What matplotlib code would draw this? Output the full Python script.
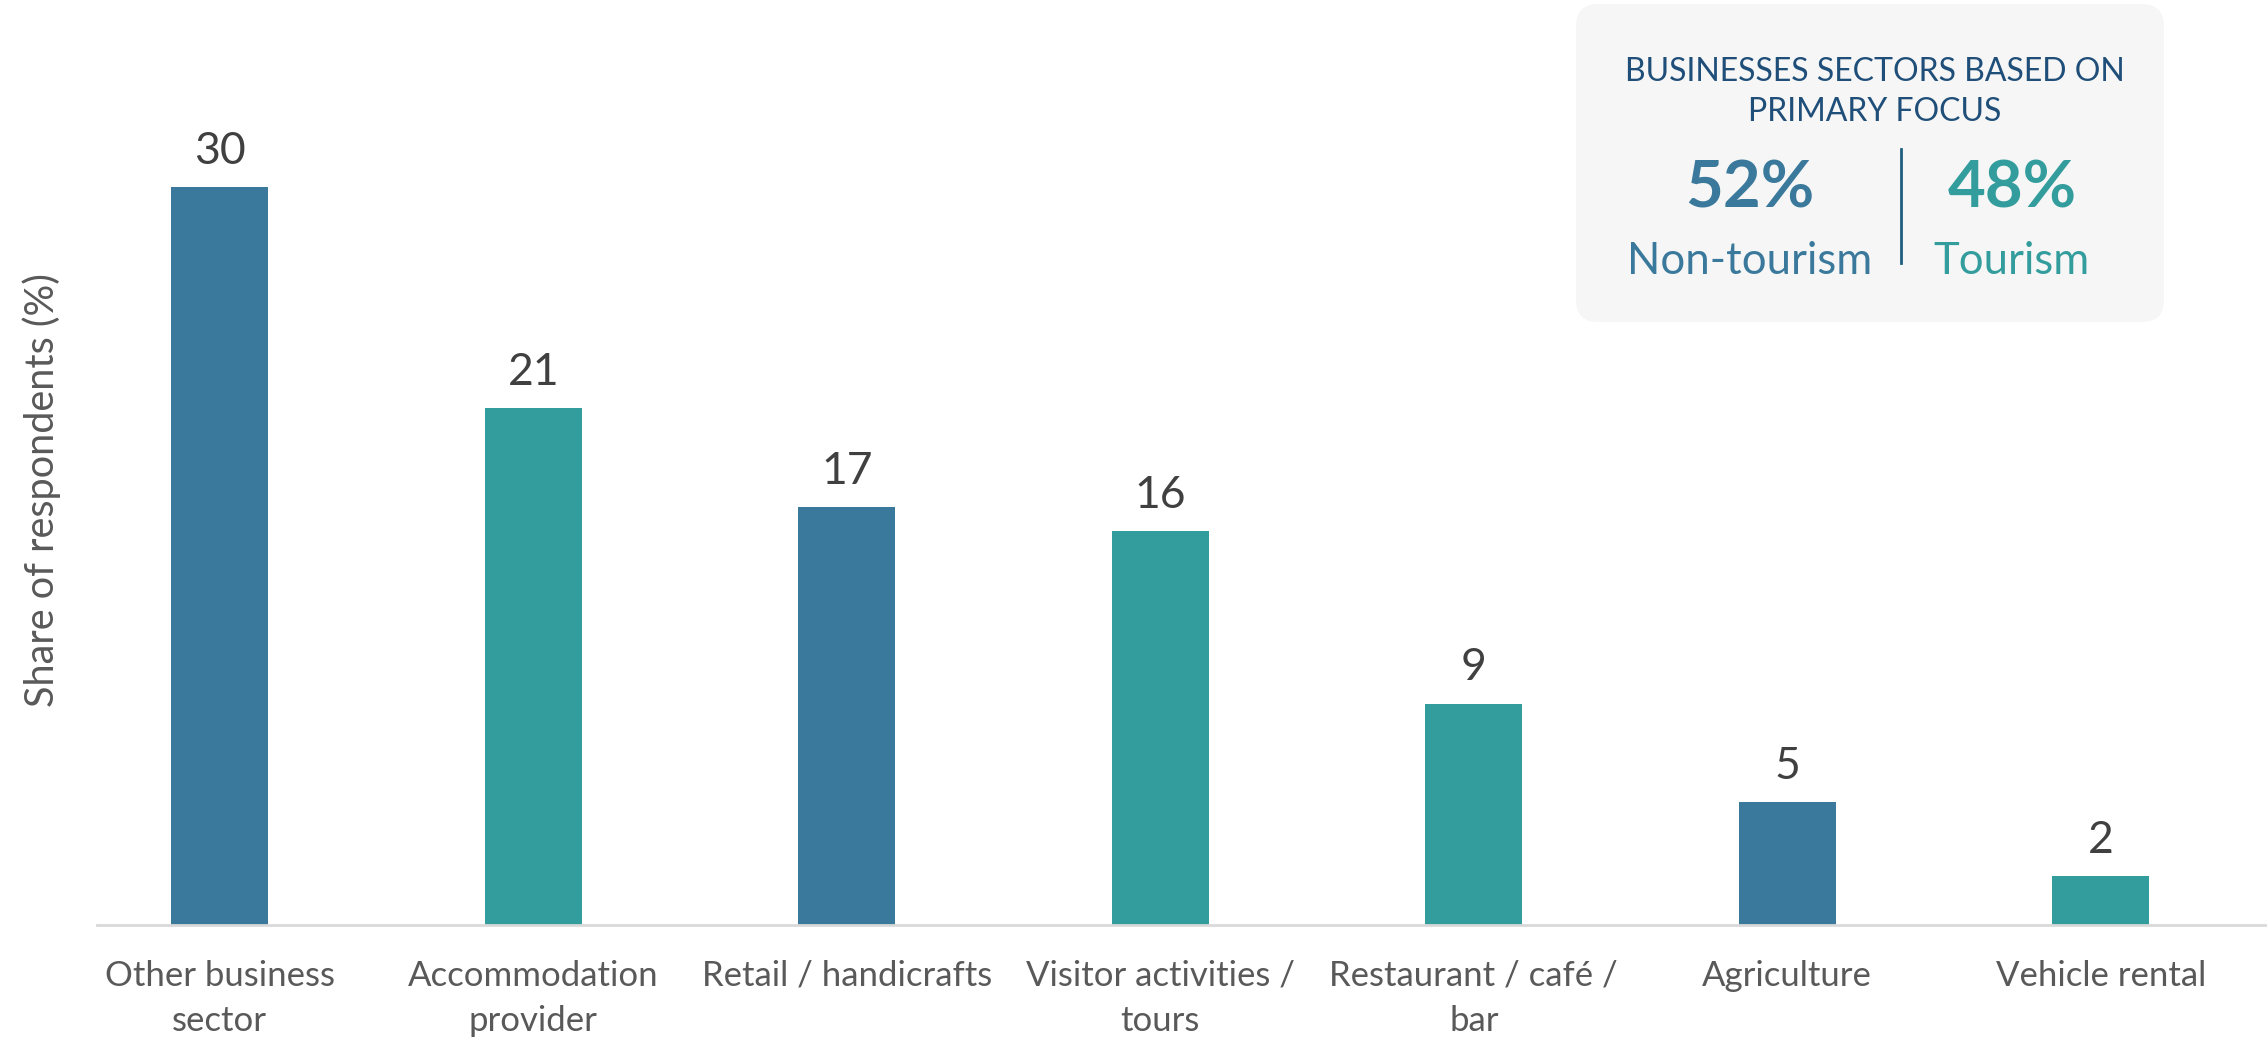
import matplotlib.pyplot as plt
from matplotlib.patches import FancyBboxPatch

plt.rcParams['font.family'] = ['Lato', 'DejaVu Sans']

categories = ['Other business\nsector', 'Accommodation\nprovider', 'Retail / handicrafts',
              'Visitor activities /\ntours', 'Restaurant / café /\nbar', 'Agriculture',
              'Vehicle rental']
values = [30, 21, 17, 16, 9, 5, 2]
is_tourism = [False, True, False, True, True, False, True]

non_tourism_share = 52
tourism_share = 48

blue = '#3a799b'
teal = '#339c9c'
colors = [teal if t else blue for t in is_tourism]

fig = plt.figure(figsize=(22.67, 10.37), dpi=100)
ax = fig.add_axes([0.043, 0.108, 0.957, 0.892])

x = range(len(categories))
bars = ax.bar(x, values, width=0.31, color=colors, zorder=2)
ax.bar_label(bars, labels=[str(v) for v in values], padding=11,
             fontsize=32, color='#404040')

ax.set_xlim(-0.39, 6.53)
ax.set_ylim(0, 37.6)
ax.set_xticks(list(x))
ax.set_xticklabels(categories, fontsize=25, color='#595959', linespacing=1.5)
ax.tick_params(axis='x', length=0, pad=25)
ax.set_yticks([])
for side in ['top', 'right', 'left']:
    ax.spines[side].set_visible(False)
ax.spines['bottom'].set_color('#d9d9d9')
ax.spines['bottom'].set_linewidth(2)
ax.set_ylabel('Share of respondents (%)', fontsize=28.5, color='#595959')
ax.yaxis.set_label_coords(-0.017, 0.47)

# summary box, pixel-sized data coordinates so the corners stay round
box = fig.add_axes([1576 / 2267, 1 - 322 / 1037, 588 / 2267, 318 / 1037])
box.set_xlim(0, 588)
box.set_ylim(0, 318)
box.axis('off')
box.add_patch(FancyBboxPatch((22, 22), 544, 274, boxstyle='round,pad=22',
                             facecolor='#f6f6f6', edgecolor='none'))
box.text(299, 230, 'BUSINESSES SECTORS BASED ON\nPRIMARY FOCUS', ha='center', va='center',
         fontsize=23, color='#1f4e79', linespacing=1.4)
box.text(174, 133, f'{non_tourism_share}%', ha='center', va='center',
         fontsize=47, fontweight='bold', color=blue)
box.text(436, 133, f'{tourism_share}%', ha='center', va='center',
         fontsize=47, fontweight='bold', color=teal)
box.text(174, 60, 'Non-tourism', ha='center', va='center', fontsize=31.5, color=blue)
box.text(436, 60, 'Tourism', ha='center', va='center', fontsize=31.5, color=teal)
box.plot([325, 325], [59, 173], color='#1f5f80', linewidth=2)

fig.savefig('out.png', dpi=100)
